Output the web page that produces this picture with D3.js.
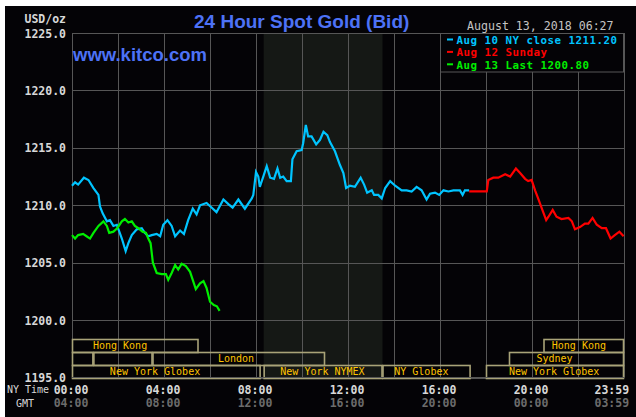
<!DOCTYPE html>
<html><head><meta charset="utf-8">
<script src="https://cdn.jsdelivr.net/npm/d3@7"></script>
<style>
html,body{margin:0;padding:0;background:#fff;}
svg{display:block;}
</style></head>
<body>
<svg id="chart" width="636" height="417"></svg>
<script>
// ---------- data ----------
const titleText = "24 Hour Spot Gold (Bid)";
const siteText = "www.kitco.com";
const stampText = "August 13, 2018 06:27";
const unitText = "USD/oz";

const legendLabels = ["Aug 10 NY close 1211.20", "Aug 12 Sunday", "Aug 13 Last 1200.80"];

// minutes after 00:00 NY time, price
const blueMin = [0,8,16,31,43,56,69,73,80,91,99,108,117,130,140,147,156,169,182,190,199,208,221,230,238,249,260,269,282,292,303,315,325,334,351,364,377,395,408,419,434,451,469,473,480,486,490,499,508,517,527,536,543,551,560,571,575,586,599,603,610,616,625,637,647,656,666,673,686,699,708,715,725,738,753,762,770,782,788,799,808,817,830,843,860,873,886,899,912,925,934,947,958,969,982,995,1012,1019,1025,1036];
const blueVal = [1211.7,1212.0,1211.8,1212.4,1212.2,1211.5,1210.9,1209.9,1209.3,1208.6,1208.7,1208.2,1208.3,1207.1,1206.0,1206.7,1207.4,1207.9,1208.0,1207.6,1207.3,1207.4,1207.5,1207.3,1208.3,1208.7,1208.2,1207.3,1207.8,1207.5,1208.7,1209.7,1209.2,1210.0,1210.2,1209.8,1209.4,1210.5,1210.1,1209.8,1210.5,1209.7,1210.6,1210.9,1212.9,1212.5,1211.6,1212.5,1213.4,1212.4,1212.3,1213.2,1212.4,1212.5,1212.1,1212.1,1214.0,1214.7,1214.8,1215.4,1217.0,1216.0,1216.0,1215.3,1215.7,1216.4,1216.1,1215.5,1214.7,1213.5,1212.8,1211.5,1211.7,1211.6,1212.4,1211.8,1211.1,1211.3,1210.9,1210.9,1210.6,1211.5,1212.1,1211.7,1211.3,1211.3,1211.2,1211.6,1211.3,1210.5,1211.0,1211.1,1210.9,1211.3,1211.2,1211.3,1211.3,1210.9,1211.3,1211.3];

const redMin = [1036,1082,1086,1099,1112,1130,1143,1158,1169,1182,1190,1199,1208,1216,1228,1237,1243,1254,1264,1277,1295,1304,1312,1325,1338,1347,1358,1369,1382,1393,1405,1416,1428,1439];
const redVal = [1211.2,1211.2,1212.2,1212.4,1212.4,1212.7,1212.5,1213.2,1212.8,1212.3,1212.1,1212.2,1211.3,1210.6,1209.5,1208.7,1209.0,1209.6,1209.0,1208.8,1208.9,1208.6,1207.9,1208.1,1208.4,1208.4,1208.9,1208.3,1208.0,1208.0,1207.1,1207.4,1207.7,1207.3];

const greenMin = [0,8,16,29,38,47,56,69,82,91,97,108,118,130,138,147,156,164,173,184,193,199,205,211,221,234,245,251,260,269,277,286,297,308,315,323,334,343,351,360,370,378,385];
const greenVal = [1207.4,1207.1,1207.4,1207.5,1207.3,1207.1,1207.6,1208.2,1208.6,1208.2,1207.6,1207.7,1208.0,1208.6,1208.8,1208.5,1208.6,1208.2,1208.0,1207.7,1207.6,1207.1,1206.7,1205.0,1204.1,1204.0,1204.0,1203.5,1204.1,1204.8,1204.4,1204.9,1204.7,1204.2,1203.5,1202.7,1203.2,1203.4,1202.8,1201.6,1201.3,1201.2,1200.8];

const yTicks = [1195,1200,1205,1210,1215,1220,1225];
const xGridMin = [0,120,240,360,480,600,720,840,960,1080,1200,1320,1440];
const xTickMin = [0,240,480,720,960,1200,1439];
const nyLabels = ["00:00","04:00","08:00","12:00","16:00","20:00","23:59"];
const gmtLabels = ["04:00","08:00","12:00","16:00","20:00","00:00","03:59"];

// COMEX floor session (shaded), hours
const pitHours = [8.3333, 13.5];

// market sessions: row, start hour, end hour, label centre hour
const sessNames = ["Hong Kong","","","London","New York Globex","New York NYMEX","NY Globex","New York Globex","Sydney","Hong Kong"];
const sessRow   = [0,1,1,1,2,2,2,2,1,0];
const sessStart = [0,0,0.93,3.5,0,8.3333,13.5,18,19,20.5];
const sessEnd   = [5.5,0.93,3.5,11,8.2,13.5,17.33,24,24,24];
const sessLabelAt = [2.09,null,null,7.13,3.61,10.89,15.19,20.96,20.98,22.04];

// ---------- drawing ----------
const svg = d3.select("#chart");
const L = 72, R = 624, T = 33, B = 377.5;
const x = d3.scaleLinear().domain([0,1440]).range([L,R]);
const xh = d3.scaleLinear().domain([0,24]).range([L,R]);
const y = d3.scaleLinear().domain([1195,1225]).range([B,T]);

const BG = "#040306", GRID = "#565656", BOX = "#a9a378";
const mono = "'DejaVu Sans Mono', monospace";

svg.append("rect").attr("x",5).attr("y",6).attr("width",631).attr("height",411).attr("fill",BG);

// shaded pit session
svg.append("rect").attr("x",xh(pitHours[0])).attr("y",T)
  .attr("width",xh(pitHours[1])-xh(pitHours[0])).attr("height",B-T).attr("fill","#151815");

// grid
svg.append("g").selectAll("line").data(yTicks).join("line")
  .attr("x1",L).attr("x2",R).attr("y1",d=>Math.round(y(d))+0.5).attr("y2",d=>Math.round(y(d))+0.5)
  .attr("stroke",GRID).attr("stroke-width",1);
svg.append("g").selectAll("line").data(xGridMin).join("line")
  .attr("x1",d=>Math.round(x(d))+0.5).attr("x2",d=>Math.round(x(d))+0.5).attr("y1",T).attr("y2",B)
  .attr("stroke",GRID).attr("stroke-width",1);

// session boxes
const rowTop = [339, 352, 365], rowH = 13;
const sess = sessNames.map((n,i)=>({n, row:sessRow[i], s:sessStart[i], e:sessEnd[i], c:sessLabelAt[i]}));
const sg = svg.append("g");
sg.selectAll("rect").data(sess).join("rect")
  .attr("x",d=>xh(d.s)+0.5).attr("y",d=>rowTop[d.row]+0.5)
  .attr("width",d=>xh(d.e)-xh(d.s)-1).attr("height",rowH)
  .attr("fill","none").attr("stroke",BOX).attr("stroke-width",1.6);
sg.selectAll("text").data(sess.filter(d=>d.n)).join("text")
  .attr("x",d=>xh(d.c)).attr("y",d=>rowTop[d.row]+10)
  .attr("text-anchor","middle").attr("fill","#ffc400")
  .attr("font-family",mono).attr("font-size","10px").text(d=>d.n);

// price lines
function drawLine(mins, vals, color){
  const pts = mins.map((m,i)=>[m, vals[i]]);
  svg.append("path").datum(pts)
    .attr("d", d3.line().x(d=>x(d[0])).y(d=>y(d[1])))
    .attr("fill","none").attr("stroke",color).attr("stroke-width",2.2).attr("stroke-linejoin","miter");
}
drawLine(blueMin, blueVal, "#00c4ff");
drawLine(redMin, redVal, "#ff0000");
drawLine(greenMin, greenVal, "#00ee00");

// plot frame (top/bottom)
svg.append("line").attr("x1",L).attr("x2",R).attr("y1",T+0.5).attr("y2",T+0.5).attr("stroke",GRID);
svg.append("line").attr("x1",L).attr("x2",R).attr("y1",B).attr("y2",B).attr("stroke",GRID);

// y axis labels via d3 axis
const yAxis = svg.append("g").attr("transform",`translate(66,0)`)
  .call(d3.axisLeft(y).tickValues(yTicks).tickSize(0).tickPadding(0).tickFormat(d=>d.toFixed(1)));
yAxis.select(".domain").remove();
yAxis.selectAll("text").attr("fill","#d8d8d8").attr("font-family",mono)
  .attr("font-size","11.5px").attr("font-weight","bold").attr("dy","0.36em");

svg.append("text").attr("x",66).attr("y",23).attr("text-anchor","end")
  .attr("fill","#d8d8d8").attr("font-family",mono).attr("font-size","11.5px").attr("font-weight","bold").text(unitText);

// x axis labels
const xt = svg.append("g");
xt.selectAll("text.ny").data(xTickMin).join("text").attr("class","ny")
  .attr("x",(d,i)=> i===xTickMin.length-1 ? x(d)+5.5 : x(d)-1)
  .attr("y",393.5).attr("text-anchor",(d,i)=> i===xTickMin.length-1 ? "end":"middle")
  .attr("fill","#d8d8d8").attr("font-family",mono).attr("font-size","11.5px").attr("font-weight","bold")
  .text((d,i)=>nyLabels[i]);
xt.selectAll("text.gmt").data(xTickMin).join("text").attr("class","gmt")
  .attr("x",(d,i)=> i===xTickMin.length-1 ? x(d)+5.5 : x(d)-1)
  .attr("y",407).attr("text-anchor",(d,i)=> i===xTickMin.length-1 ? "end":"middle")
  .attr("fill","#6c6c6c").attr("font-family",mono).attr("font-size","11.5px").attr("font-weight","bold")
  .text((d,i)=>gmtLabels[i]);
svg.append("text").attr("x",7).attr("y",393).attr("fill","#d8d8d8").attr("font-family",mono).attr("font-size","10px").text("NY Time");
svg.append("text").attr("x",16).attr("y",406.5).attr("fill","#d8d8d8").attr("font-family",mono).attr("font-size","10px").text("GMT");

// titles
svg.append("text").attr("x",194).attr("y",28).attr("fill","#4d72f6")
  .attr("font-family","'Liberation Sans', Arial, sans-serif").attr("font-size","19px").attr("font-weight","bold").text(titleText);
svg.append("text").attr("x",73).attr("y",61).attr("fill","#4d72f6")
  .attr("font-family","'Liberation Sans', Arial, sans-serif").attr("font-size","18.5px").attr("font-weight","bold").text(siteText);
svg.append("text").attr("x",467).attr("y",29.5).attr("fill","#c4c4c4")
  .attr("font-family",mono).attr("font-size","11.6px").text(stampText);

// legend
const lg = svg.append("g");
lg.append("rect").attr("x",440.5).attr("y",33.5).attr("width",183).attr("height",38.5)
  .attr("fill",BG).attr("stroke",GRID);
const lgColors = ["#00c4ff","#ff0000","#00ee00"];
legendLabels.forEach((t,i)=>{
  const by = 44 + i*12.4;
  lg.append("rect").attr("x",447).attr("y",by-5.5).attr("width",6).attr("height",2).attr("fill",lgColors[i]);
  lg.append("text").attr("x",456.5).attr("y",by).attr("fill",lgColors[i])
    .attr("font-family",mono).attr("font-size","10.8px").attr("letter-spacing","0.5px")
    .attr("font-weight","bold").text(t);
});
</script>
</body></html>
